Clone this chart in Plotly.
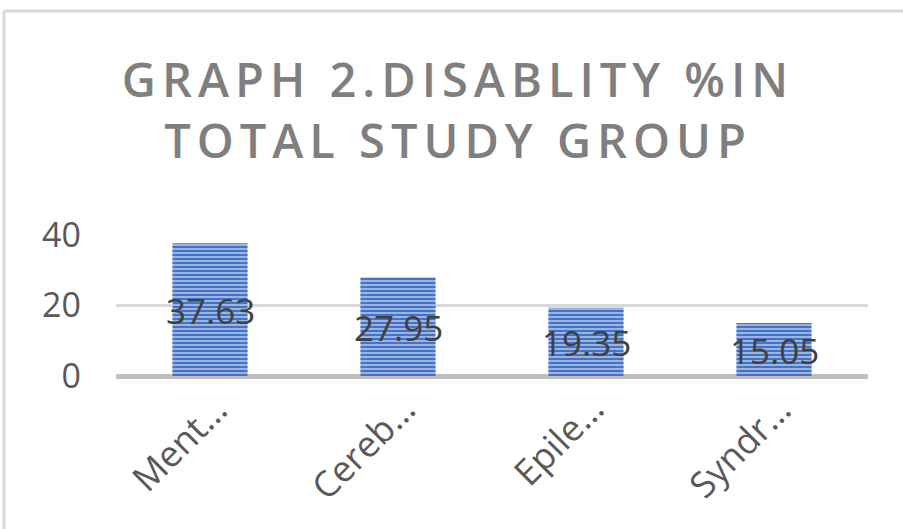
import plotly.graph_objects as go

categories = ["Ment…", "Cereb…", "Epile…", "Syndr…"]
values = [37.63, 27.95, 19.35, 15.05]
labels = ["37.63", "27.95", "19.35", "15.05"]
y_ticks = [0, 20, 40]
title_text = "GRAPH 2.DISABLITY %IN<br>TOTAL STUDY GROUP"

FONT = "Open Sans"

fig = go.Figure()
fig.add_trace(go.Bar(
    x=categories, y=values, width=0.4,
    marker=dict(
        color="#4472c4",
        line=dict(width=0),
        pattern=dict(shape="-", fgcolor="#d5e0f4", bgcolor="#4472c4",
                     size=4, solidity=0.3, fillmode="replace"),
    ),
    hoverinfo="skip",
))

# data labels centred in each bar
for c, v, t in zip(categories, values, labels):
    fig.add_annotation(x=c, y=v / 2, xref="x", yref="y", text=t,
                       showarrow=False, yshift=-1,
                       font=dict(family=FONT, size=35, color="#404040"))

# rotated category labels
for c in categories:
    fig.add_annotation(x=c, y=0, xref="x", yref="y", text=c,
                       showarrow=False, textangle=-45,
                       xanchor="right", yanchor="top",
                       xshift=30, yshift=-6,
                       font=dict(family=FONT, size=36, color="#595959"))

L, R, T, B = 116, 35, 235, 153
W, H = 903, 529
plot_h = H - T - B
plot_w = W - L - R

def px_to_paper_x(px):
    return (px - L) / plot_w

def py_to_paper_y(py):
    return (H - B - py) / plot_h

border = dict(color="#d9d9d9", width=3)
fig.add_shape(type="line", xref="paper", yref="paper",
              x0=px_to_paper_x(4), x1=px_to_paper_x(910),
              y0=py_to_paper_y(11), y1=py_to_paper_y(11), line=border)
fig.add_shape(type="line", xref="paper", yref="paper",
              x0=px_to_paper_x(4), x1=px_to_paper_x(4),
              y0=py_to_paper_y(11), y1=py_to_paper_y(540), line=border)

fig.update_layout(
    width=W, height=H,
    margin=dict(l=L, r=R, t=T, b=B, pad=0),
    paper_bgcolor="white", plot_bgcolor="white",
    showlegend=False,
    title=dict(
        text=title_text,
        x=458 / W, xanchor="center",
        y=1 - 97 / H, yanchor="top", yref="container",
        font=dict(family=FONT, size=47, color="#7f7f7f", weight=600),
    ),
    xaxis=dict(
        type="category", showgrid=False, zeroline=False, showline=False,
        showticklabels=False, ticks="", automargin=False,
    ),
    yaxis=dict(
        range=[0, 40], tickvals=y_ticks, showgrid=True, gridcolor="#d9d9d9",
        gridwidth=3, zeroline=True, zerolinecolor="#bfbfbf", zerolinewidth=5,
        showline=False, ticks="", automargin=False,
        tickfont=dict(family=FONT, size=34, color="#595959"),
        ticklabelstandoff=34,
    ),
)

fig.write_html(
    "out.html",
    post_script="document.querySelectorAll('.gtitle').forEach(function(e){e.style.letterSpacing='6px';});",
)
